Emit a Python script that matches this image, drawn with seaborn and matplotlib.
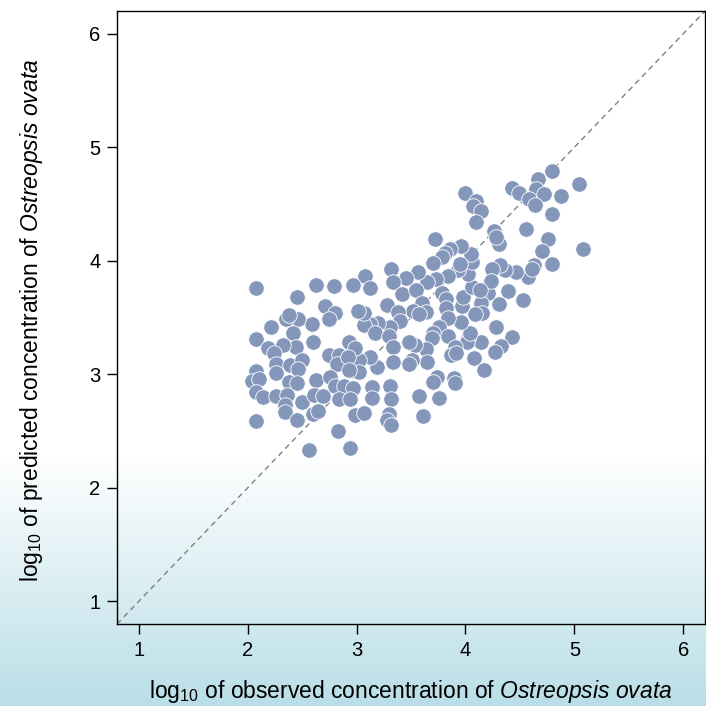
import numpy as np
import pandas as pd
import matplotlib
matplotlib.use("Agg")
import matplotlib.pyplot as plt
import seaborn as sns
from matplotlib.colors import LinearSegmentedColormap

observed = [4.79, 5.04, 4.88, 4.67, 4.65, 4.72, 4.43, 4.49, 4.58, 4.64, 4.79, 4.00, 4.10, 4.07, 4.14, 4.10,
            4.56, 4.26, 4.31, 4.28, 4.76, 4.70, 5.08, 4.79, 4.63, 4.57, 4.61, 4.53, 4.46, 4.36, 4.32, 4.24,
            4.39, 4.31, 4.21, 4.23, 4.14, 4.15, 4.09, 4.28, 4.43, 4.33, 4.27, 4.14, 4.08, 4.17, 4.02, 4.01,
            4.04, 3.96, 3.97, 3.98, 4.06, 4.02, 3.93, 4.06, 4.05, 3.96, 3.86, 3.81, 3.78, 3.72, 3.70, 3.95,
            3.84, 3.73, 3.65, 3.56, 3.45, 3.32, 3.33, 3.42, 3.55, 3.60, 3.78, 3.82, 3.82, 3.64, 3.52, 3.57,
            3.84, 3.76, 3.70, 3.84, 3.69, 3.90, 3.64, 3.54, 3.48, 3.65, 3.51, 3.48, 3.87, 3.91, 3.89, 3.90,
            3.74, 3.70, 3.57, 3.76, 3.61, 3.28, 3.38, 3.40, 3.31, 3.20, 3.12, 3.07, 3.17, 3.30, 3.33, 3.33,
            3.19, 3.12, 3.02, 3.02, 3.07, 3.01, 3.08, 3.12, 2.97, 2.79, 2.63, 2.71, 2.80, 2.75, 2.59, 2.45,
            2.46, 2.35, 2.38, 2.42, 2.44, 2.32, 2.21, 2.08, 2.08, 2.19, 2.24, 2.26, 2.26, 2.08, 2.04, 2.10,
            2.08, 2.14, 2.08, 2.26, 2.39, 2.50, 2.46, 2.38, 2.45, 2.36, 2.34, 2.34, 2.50, 2.45, 2.63, 2.61,
            2.69, 2.60, 2.65, 2.60, 2.75, 2.84, 2.82, 2.76, 2.80, 2.88, 2.84, 2.93, 2.99, 2.92, 2.93, 2.97,
            2.94, 2.99, 3.07, 3.14, 3.14, 2.83, 2.94, 2.56, 3.31, 3.32, 3.30, 3.28, 3.32, 4.13]
predicted = [4.79, 4.68, 4.57, 4.72, 4.63, 4.59, 4.64, 4.60, 4.54, 4.49, 4.41, 4.60, 4.53, 4.48, 4.44, 4.34,
             4.28, 4.26, 4.15, 4.21, 4.19, 4.09, 4.10, 3.97, 3.96, 3.86, 3.93, 3.65, 3.90, 3.92, 3.96, 3.93,
             3.73, 3.62, 3.72, 3.82, 3.63, 3.54, 3.53, 3.42, 3.33, 3.25, 3.20, 3.28, 3.14, 3.04, 3.32, 3.28,
             3.36, 3.46, 3.60, 3.68, 3.77, 3.88, 3.92, 3.99, 4.06, 4.13, 4.10, 4.07, 4.03, 4.19, 3.98, 3.97,
             3.87, 3.84, 3.81, 3.90, 3.85, 3.93, 3.81, 3.71, 3.74, 3.63, 3.72, 3.66, 3.58, 3.55, 3.56, 3.53,
             3.50, 3.42, 3.36, 3.34, 3.32, 3.24, 3.22, 3.26, 3.28, 3.11, 3.13, 3.09, 3.17, 3.19, 2.97, 2.92,
             2.98, 2.93, 2.81, 2.79, 2.63, 3.61, 3.55, 3.47, 3.42, 3.45, 3.44, 3.43, 3.36, 3.34, 3.24, 3.11,
             3.06, 3.15, 3.13, 3.02, 3.54, 3.56, 3.87, 3.76, 3.79, 3.78, 3.79, 3.60, 3.54, 3.49, 3.44, 3.68,
             3.49, 3.49, 3.52, 3.36, 3.24, 3.26, 3.42, 3.76, 3.31, 3.23, 3.19, 3.09, 3.01, 3.03, 2.94, 2.96,
             2.84, 2.80, 2.59, 2.81, 3.08, 3.13, 3.05, 2.93, 2.92, 2.82, 2.73, 2.67, 2.76, 2.60, 2.95, 2.82,
             2.81, 2.65, 2.68, 3.28, 3.17, 3.17, 3.09, 2.98, 2.90, 2.90, 2.78, 3.28, 3.23, 3.15, 3.04, 2.88,
             2.78, 2.64, 2.66, 2.89, 2.79, 2.50, 2.35, 2.33, 2.90, 2.78, 2.65, 2.60, 2.55, 3.74]

tick_vals = [1, 2, 3, 4, 5, 6]

df = pd.DataFrame({"observed": observed, "predicted": predicted})

sns.set_theme(style="white")
plt.rcParams['font.family'] = ['Liberation Sans', 'DejaVu Sans']
plt.rcParams['mathtext.fontset'] = 'custom'
plt.rcParams['mathtext.rm'] = 'Liberation Sans'
plt.rcParams['mathtext.it'] = 'Liberation Sans:italic'

fig = plt.figure(figsize=(7.06, 7.06), dpi=100)

# background gradient
bg = fig.add_axes([0, 0, 1, 1], zorder=-10)
h = 706
grad = np.zeros((h, 1))
start = 455
for i in range(h):
    grad[i, 0] = 0.0 if i < start else (i - start) / (h - start)
cmap = LinearSegmentedColormap.from_list("bg", ["#ffffff", "#b9dee7"])
bg.imshow(grad, aspect="auto", cmap=cmap, extent=[0, 1, 0, 1], vmin=0, vmax=1)
bg.axis("off")

ax = fig.add_axes([0.1657, 0.1161, 0.833, 0.8683])
ax.patch.set_alpha(0)

ax.plot([0.8, 6.2], [0.8, 6.2], ls=(0, (4, 3)), color="#808080", lw=1.0, zorder=1)
sns.scatterplot(data=df, x="observed", y="predicted", ax=ax, s=125,
                color="#8497ba", edgecolor="white", linewidth=0.6, zorder=3, legend=False)

ax.set_xlim(0.8, 6.2)
ax.set_ylim(0.8, 6.2)
ax.set_xticks(tick_vals)
ax.set_yticks(tick_vals)
ax.set_xticklabels([str(t) for t in tick_vals])
ax.set_yticklabels([str(t) for t in tick_vals])
ax.tick_params(axis="both", direction="out", length=7, width=1, color="black",
               labelsize=14.5, labelcolor="black", bottom=True, left=True, pad=5)
for sp in ax.spines.values():
    sp.set_visible(True)
    sp.set_color("black")
    sp.set_linewidth(1.0)

ax.set_xlabel(r"log$_{10}$ of observed concentration of $\mathit{Ostreopsis\ ovata}$",
              fontsize=16.5, color="black")
ax.set_ylabel(r"log$_{10}$ of predicted concentration of $\mathit{Ostreopsis\ ovata}$",
              fontsize=16.5, color="black")
ax.xaxis.label.set_va("center")
ax.yaxis.label.set_va("center")
ax.xaxis.set_label_coords(0.5, -0.11)
ax.yaxis.set_label_coords(-0.145, 0.495)

fig.savefig("out.png", dpi=100)
